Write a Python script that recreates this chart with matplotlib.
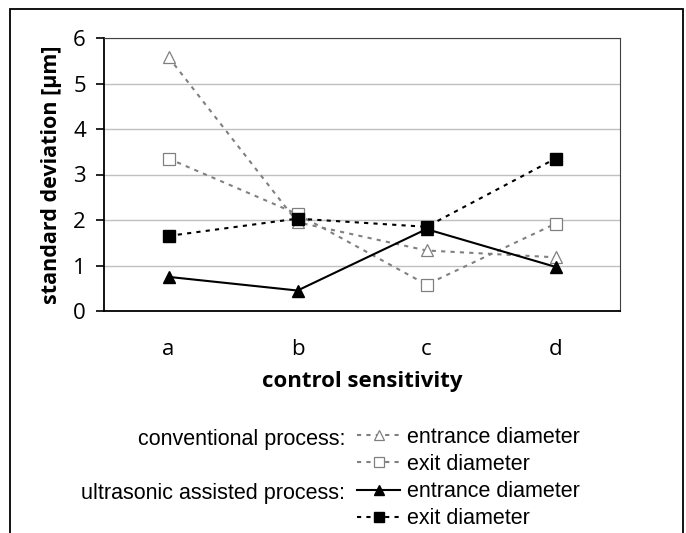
import numpy as np
import matplotlib.pyplot as plt
from matplotlib.lines import Line2D
from matplotlib.patches import Rectangle

categories = ['a', 'b', 'c', 'd']
conv_entrance = [5.58, 1.95, 1.33, 1.18]
conv_exit = [3.35, 2.13, 0.58, 1.92]
ultra_entrance = [0.75, 0.45, 1.80, 0.97]
ultra_exit = [1.65, 2.03, 1.85, 3.35]
y_ticks = [0, 1, 2, 3, 4, 5, 6]

grey = '#808080'
dash = (0, (2, 2.5))
plt.rcParams['font.family'] = ['Open Sans', 'DejaVu Sans']

fig = plt.figure(figsize=(6.86, 5.33), dpi=100)
ax = fig.add_axes([104 / 686, 1 - 311 / 533, 516 / 686, 273 / 533])

x = np.arange(len(categories))
ax.plot(x, conv_entrance, color=grey, ls=dash, lw=1.5, marker='^',
        mfc='white', mec=grey, ms=8, mew=0.9, zorder=3)
ax.plot(x, conv_exit, color=grey, ls=dash, lw=1.5, marker='s',
        mfc='white', mec=grey, ms=8, mew=0.9, zorder=3)
ax.plot(x, ultra_entrance, color='black', ls='-', lw=1.5, marker='^',
        mfc='black', mec='black', ms=8, zorder=4)
ax.plot(x, ultra_exit, color='black', ls=dash, lw=1.5, marker='s',
        mfc='black', mec='black', ms=8, zorder=4)

ax.set_xlim(-0.5, 3.5)
ax.set_ylim(0, 6)
ax.set_yticks(y_ticks)
ax.set_xticks(x)
ax.set_xticklabels(categories)
ax.tick_params(axis='y', length=6, width=1.2, labelsize=16, direction='out', pad=7)
ax.tick_params(axis='x', length=0, labelsize=16, pad=20)
ax.yaxis.grid(True, color='#c0c0c0', lw=1)
ax.set_axisbelow(True)
for s in ['top', 'right']:
    ax.spines[s].set_color('#404040')
for s in ['left', 'bottom']:
    ax.spines[s].set_color('black')
    ax.spines[s].set_linewidth(1.3)
ax.set_ylabel('standard deviation [µm]', fontsize=15.5, fontweight='bold', labelpad=8)
ax.set_xlabel('control sensitivity', fontsize=16, fontweight='bold', labelpad=8)

# outer frame
fig.patches.append(Rectangle((10 / 686, -0.01), 673 / 686, 1 - 9 / 533 + 0.01,
                             transform=fig.transFigure, fill=False,
                             edgecolor='black', lw=1.3))

handles = [
    Line2D([], [], color=grey, ls=dash, lw=1.5, marker='^', mfc='white', mec=grey, ms=7, mew=0.9),
    Line2D([], [], color=grey, ls=dash, lw=1.5, marker='s', mfc='white', mec=grey, ms=7, mew=0.9),
    Line2D([], [], color='black', ls='-', lw=1.5, marker='^', mfc='black', mec='black', ms=7),
    Line2D([], [], color='black', ls=dash, lw=1.5, marker='s', mfc='black', mec='black', ms=7),
]
labels = ['entrance diameter', 'exit diameter', 'entrance diameter', 'exit diameter']
leg = fig.legend(handles, labels, loc='upper left', bbox_to_anchor=(357 / 686, 1 - 427 / 533),
                 frameon=False, handlelength=2.0, handletextpad=0.3,
                 labelspacing=0.28, borderpad=0, borderaxespad=0,
                 prop={'family': ['Liberation Sans'], 'size': 15.5})

fig.text(345 / 686, 1 - 439 / 533, 'conventional process:', ha='right', va='center',
         fontsize=15.5, family=['Liberation Sans'])
fig.text(345 / 686, 1 - 494 / 533, 'ultrasonic assisted process:', ha='right', va='center',
         fontsize=15.5, family=['Liberation Sans'])

fig.savefig('out.png', dpi=100)
